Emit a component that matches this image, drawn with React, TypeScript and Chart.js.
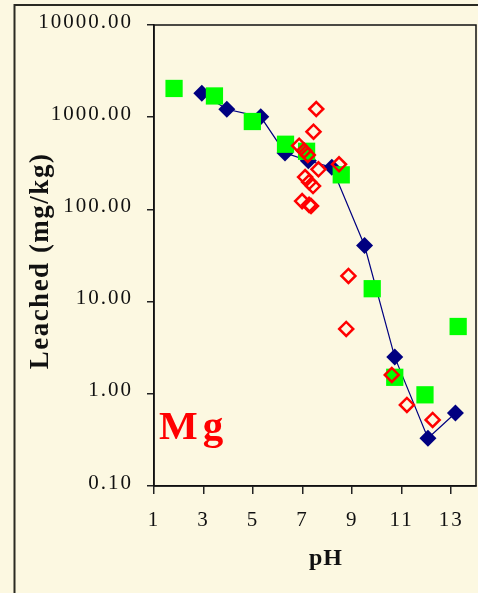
import { useEffect, useRef } from "react";
import { Chart, registerables } from "chart.js";

Chart.register(...registerables);

// Axis ticks
const PH_TICKS = [1, 3, 5, 7, 9, 11, 13];
const LEACHED_TICKS = [0.1, 1, 10, 100, 1000, 10000];

// Filled navy diamonds (joined by a line)
const diamondPh = [2.93, 3.94, 5.31, 6.29, 7.23, 8.18, 9.5, 10.72, 12.06, 13.17];
const diamondMg = [1820, 1220, 1010, 410, 337, 286, 40.6, 2.5, 0.33, 0.62];

// Filled green squares
const squarePh = [1.81, 3.44, 4.97, 6.31, 7.16, 8.56, 9.81, 10.72, 11.94, 13.28];
const squareMg = [2050, 1700, 898, 509, 427, 237, 13.8, 1.51, 0.975, 5.37];

// Open red diamonds
const openPh = [7.55, 7.44, 6.86, 7.06, 7.21, 7.64, 8.47, 7.1, 7.26, 7.42, 6.98, 7.26, 7.34, 8.85, 8.76, 10.6, 11.21, 12.25];
const openMg = [1227, 697, 491, 433, 389, 272, 308, 224, 198, 179, 123, 112, 109, 19, 5.05, 1.6, 0.757, 0.52];

const SERIF = '"Liberation Serif", "Times New Roman", serif';
const CREAM = "rgb(252,248,225)";

const toPoints = (xs: number[], ys: number[]) => xs.map((x, i) => ({ x, y: ys[i] }));

const framePlugin = {
  id: "frame",
  beforeDraw(chart: any) {
    const { ctx, width, height } = chart;
    ctx.save();
    ctx.fillStyle = CREAM;
    ctx.fillRect(0, 0, width, height);
    ctx.strokeStyle = "#2a2a22";
    ctx.lineWidth = 2;
    ctx.beginPath();
    ctx.moveTo(14.5, height);
    ctx.lineTo(14.5, 5);
    ctx.lineTo(width, 5);
    ctx.stroke();
    ctx.restore();
    // spaced-out lettering for tick labels
    ctx.letterSpacing = "2px";
  },
  beforeDatasetsDraw(chart: any) {
    const { ctx, chartArea } = chart;
    ctx.save();
    ctx.strokeStyle = "#111";
    ctx.lineWidth = 1.5;
    ctx.strokeRect(chartArea.left, chartArea.top, chartArea.right - chartArea.left, chartArea.bottom - chartArea.top);
    ctx.restore();
  },
  afterDraw(chart: any) {
    const { ctx } = chart;
    ctx.save();
    ctx.fillStyle = "#111";
    // y-axis title
    ctx.save();
    ctx.translate(48, 261);
    ctx.rotate(-Math.PI / 2);
    ctx.font = `bold 27px ${SERIF}`;
    ctx.letterSpacing = "1.5px";
    ctx.textAlign = "center";
    ctx.textBaseline = "alphabetic";
    ctx.fillText("Leached (mg/kg)", 0, 0);
    ctx.restore();
    // x-axis title
    ctx.font = `bold 24px ${SERIF}`;
    ctx.letterSpacing = "1px";
    ctx.textAlign = "center";
    ctx.textBaseline = "alphabetic";
    ctx.fillText("pH", 326, 565);
    // element label
    ctx.fillStyle = "#ff0000";
    ctx.font = `bold 41px ${SERIF}`;
    ctx.letterSpacing = "5px";
    ctx.textAlign = "left";
    ctx.fillText("Mg", 159, 439);
    ctx.restore();
  },
};

export default function App() {
  const canvasRef = useRef<HTMLCanvasElement | null>(null);

  useEffect(() => {
    const canvas = canvasRef.current;
    if (!canvas) return;
    const tickFont = { family: SERIF, size: 21 };
    const chart = new Chart(canvas, {
      type: "scatter",
      data: {
        datasets: [
          {
            label: "open",
            data: toPoints(openPh, openMg),
            pointStyle: "rectRot",
            pointRadius: 7,
            pointHoverRadius: 7,
            pointBorderWidth: 2.5,
            pointBorderColor: "#ff0000",
            pointBackgroundColor: "rgba(0,0,0,0)",
            showLine: false,
          },
          {
            label: "squares",
            data: toPoints(squarePh, squareMg),
            pointStyle: "rect",
            pointRadius: 12.2,
            pointHoverRadius: 12.2,
            pointBorderWidth: 0,
            pointBackgroundColor: "#00ff00",
            showLine: false,
          },
          {
            label: "diamonds",
            data: toPoints(diamondPh, diamondMg),
            pointStyle: "rectRot",
            pointRadius: 8.5,
            pointHoverRadius: 8.5,
            pointBorderWidth: 0,
            pointBackgroundColor: "#000080",
            showLine: true,
            borderColor: "#000080",
            borderWidth: 1.2,
          },
        ],
      } as any,
      options: {
        responsive: false,
        maintainAspectRatio: false,
        animation: false,
        devicePixelRatio: 1,
        layout: { autoPadding: false, padding: { top: 25, right: 2, left: 0, bottom: 0 } },
        plugins: { legend: { display: false }, tooltip: { enabled: false } },
        scales: {
          x: {
            type: "linear",
            min: 1,
            max: 14,
            afterBuildTicks: (s: any) => {
              s.ticks = PH_TICKS.map((value) => ({ value }));
            },
            afterFit: (s: any) => {
              s.height = 107;
              s.paddingLeft = 0;
              s.paddingRight = 0;
            },
            grid: { display: true, drawOnChartArea: false, drawTicks: true, tickLength: 8, color: "#222", lineWidth: 1.5 },
            border: { display: true, color: "#111", width: 1.5 },
            ticks: {
              autoSkip: false,
              maxRotation: 0,
              padding: 14,
              color: "#111",
              font: tickFont,
              callback: (v: any) => String(v),
            },
          },
          y: {
            type: "logarithmic",
            min: 0.1,
            max: 10000,
            afterBuildTicks: (s: any) => {
              s.ticks = LEACHED_TICKS.map((value) => ({ value }));
            },
            afterFit: (s: any) => {
              s.width = 154;
              s.paddingTop = 0;
              s.paddingBottom = 0;
            },
            grid: { display: true, drawOnChartArea: false, drawTicks: true, tickLength: 7, color: "#222", lineWidth: 1.5 },
            border: { display: true, color: "#111", width: 1.5 },
            ticks: {
              autoSkip: false,
              padding: 14,
              labelOffset: -3,
              color: "#111",
              font: tickFont,
              callback: (v: any) => Number(v).toFixed(2),
            },
          },
        },
      } as any,
      plugins: [framePlugin],
    });
    return () => chart.destroy();
  }, []);

  return (
    <div style={{ position: "absolute", left: 0, top: 0, width: 478, height: 593, background: CREAM }}>
      <canvas ref={canvasRef} width={478} height={593} style={{ display: "block" }} />
    </div>
  );
}
